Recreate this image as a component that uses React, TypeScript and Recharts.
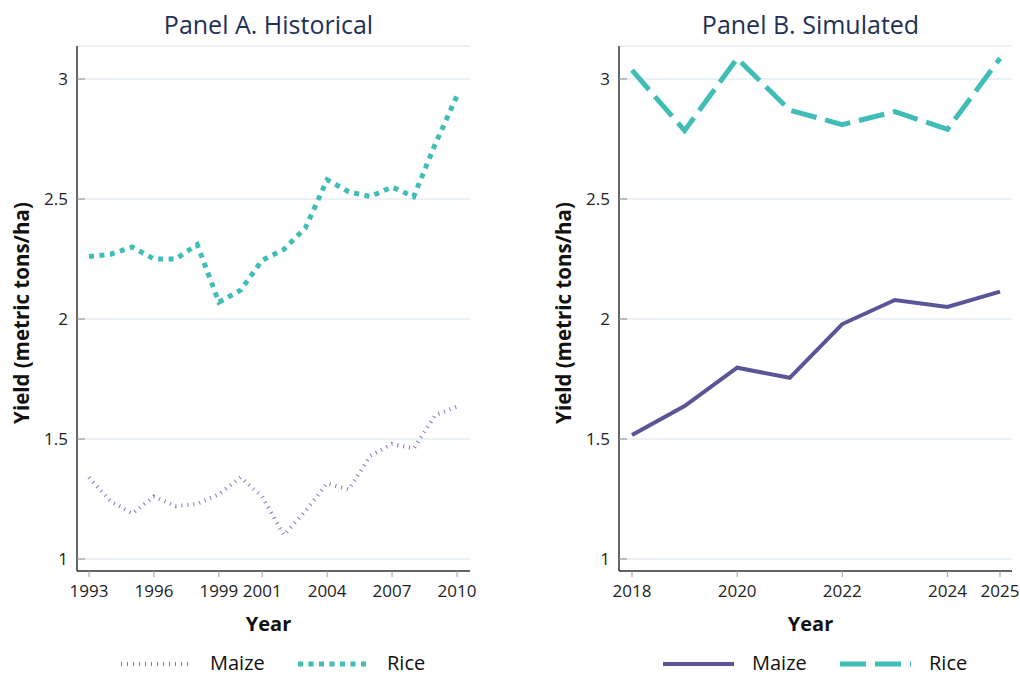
import { LineChart, Line, XAxis, YAxis, CartesianGrid, Label } from 'recharts';

const histYears = [1993, 1994, 1995, 1996, 1997, 1998, 1999, 2000, 2001, 2002, 2003, 2004, 2005, 2006, 2007, 2008, 2009, 2010];
const histMaize = [1.34, 1.24, 1.19, 1.26, 1.22, 1.23, 1.27, 1.34, 1.26, 1.1, 1.2, 1.315, 1.29, 1.43, 1.48, 1.46, 1.6, 1.635];
const histRice = [2.26, 2.27, 2.3, 2.25, 2.25, 2.31, 2.07, 2.12, 2.245, 2.29, 2.38, 2.58, 2.53, 2.51, 2.55, 2.51, 2.73, 2.93];

const simYears = [2018, 2019, 2020, 2021, 2022, 2023, 2024, 2025];
const simMaize = [1.517, 1.637, 1.797, 1.755, 1.979, 2.079, 2.05, 2.114];
const simRice = [3.037, 2.785, 3.086, 2.87, 2.81, 2.864, 2.79, 3.086];

const histTicks = [1993, 1996, 1999, 2001, 2004, 2007, 2010];
const simTicks = [2018, 2020, 2022, 2024, 2025];
const yTicks = [1, 1.5, 2, 2.5, 3];

const FONT = '"Open Sans", sans-serif';
const TEAL = '#3fbdb6';
const PURPLE = '#5a5597';
const HATCH = '#7c79bd';

type LineStyle = { stroke: string; width: number; dash?: string };

const histMaizeStyle: LineStyle = { stroke: HATCH, width: 4, dash: '1 5' };
const histRiceStyle: LineStyle = { stroke: TEAL, width: 5, dash: '5 5.5' };
const simMaizeStyle: LineStyle = { stroke: PURPLE, width: 4 };
const simRiceStyle: LineStyle = { stroke: TEAL, width: 5, dash: '26 9' };

const PLOT_W = 393;
const Y_W = 77;

function YTick({ x, y, payload }: any) {
  return (
    <g>
      <line x1={x + 9} x2={x + 17} y1={y} y2={y} stroke="#9a9a9a" strokeWidth={1.2} />
      <text x={x} y={y} dy="0.35em" textAnchor="end" fontSize={17} fill="#222" fontFamily={FONT}>
        {payload.value}
      </text>
    </g>
  );
}

function Panel(props: {
  left: number;
  title: string;
  years: number[];
  maize: number[];
  rice: number[];
  ticks: number[];
  pad: { left: number; right: number };
  maizeStyle: LineStyle;
  riceStyle: LineStyle;
}) {
  const { left, title, years, maize, rice, ticks, pad, maizeStyle, riceStyle } = props;
  const data = years.map((year, i) => ({ year, maize: maize[i], rice: rice[i] }));
  const cx = Y_W + PLOT_W / 2 - 5;

  const icon = (s: LineStyle, x: number) => (
    <line
      x1={x}
      x2={x + 71}
      y1={664}
      y2={664}
      stroke={s.stroke}
      strokeWidth={s.width}
      strokeDasharray={s.dash}
    />
  );

  return (
    <div style={{ position: 'absolute', left, top: 0, width: Y_W + PLOT_W + 8, height: 676 }}>
      <LineChart
        width={Y_W + PLOT_W + 8}
        height={676}
        data={data}
        margin={{ top: 46, right: 8, bottom: 0, left: 0 }}
      >
        <CartesianGrid vertical={false} stroke="#e4ecf2" strokeWidth={1.5} />
        <XAxis
          dataKey="year"
          type="number"
          domain={[years[0], years[years.length - 1]]}
          ticks={ticks}
          padding={pad}
          height={105}
          tickSize={6}
          tickMargin={8}
          tick={{ fontSize: 17, fill: '#222', fontFamily: FONT }}
          tickLine={{ stroke: '#9a9a9a' }}
          axisLine={{ stroke: '#333', strokeWidth: 1.5 }}
          interval={0}
        >
          <Label
            content={() => (
              <text x={cx} y={624} dy="0.35em" textAnchor="middle" fontSize={20} fontWeight={700} fill="#111" fontFamily={FONT}>
                Year
              </text>
            )}
          />
        </XAxis>
        <YAxis
          type="number"
          domain={[0.95, 3.1375]}
          ticks={yTicks}
          allowDataOverflow
          width={Y_W}
          tickSize={0}
          tickMargin={9}
          tickLine={false}
          tick={<YTick />}
          axisLine={{ stroke: '#333', strokeWidth: 1.5 }}
          interval={0}
        >
          <Label
            content={() => (
              <text
                x={22}
                y={313}
                dy="0.35em"
                transform="rotate(-90 22 313)"
                textAnchor="middle"
                fontSize={20.5}
                fontWeight={700}
                fill="#111"
                fontFamily={FONT}
              >
                Yield (metric tons/ha)
              </text>
            )}
          />
        </YAxis>
        <Line
          dataKey="maize"
          stroke={maizeStyle.stroke}
          strokeWidth={maizeStyle.width}
          strokeDasharray={maizeStyle.dash}
          dot={false}
          isAnimationActive={false}
        />
        <Line
          dataKey="rice"
          stroke={riceStyle.stroke}
          strokeWidth={riceStyle.width}
          strokeDasharray={riceStyle.dash}
          dot={false}
          isAnimationActive={false}
        />
      </LineChart>
      <svg
        width={Y_W + PLOT_W + 8}
        height={676}
        style={{ position: 'absolute', left: 0, top: 0, pointerEvents: 'none' }}
      >
        <text x={cx} y={25} dy="0.35em" textAnchor="middle" fontSize={25} fill="#1f3157" fontFamily={FONT}>
          {title}
        </text>
        {icon(maizeStyle, Y_W + 44)}
        <text x={Y_W + 133} y={663} dy="0.35em" fontSize={20} fill="#111" fontFamily={FONT}>
          Maize
        </text>
        {icon(riceStyle, Y_W + 221)}
        <text x={Y_W + 310} y={663} dy="0.35em" fontSize={20} fill="#111" fontFamily={FONT}>
          Rice
        </text>
      </svg>
    </div>
  );
}

export default function App() {
  return (
    <div style={{ position: 'absolute', left: 0, top: 0, width: 1020, height: 676, background: '#fff' }}>
      <Panel
        left={0}
        title="Panel A. Historical"
        years={histYears}
        maize={histMaize}
        rice={histRice}
        ticks={histTicks}
        pad={{ left: 12, right: 13 }}
        maizeStyle={histMaizeStyle}
        riceStyle={histRiceStyle}
      />
      <Panel
        left={542}
        title="Panel B. Simulated"
        years={simYears}
        maize={simMaize}
        rice={simRice}
        ticks={simTicks}
        pad={{ left: 13, right: 12 }}
        maizeStyle={simMaizeStyle}
        riceStyle={simRiceStyle}
      />
    </div>
  );
}
